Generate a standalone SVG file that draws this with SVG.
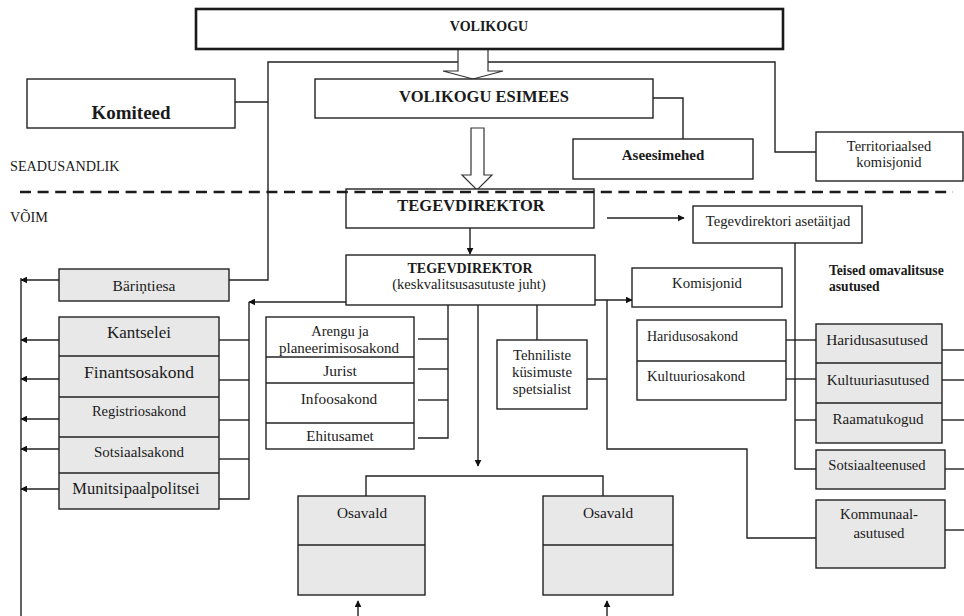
<svg xmlns="http://www.w3.org/2000/svg" width="964" height="616" viewBox="0 0 964 616" font-family="'Liberation Serif', 'DejaVu Serif', serif">
  <style>
    text { font-family: 'Liberation Serif', 'DejaVu Serif', serif; fill: #1a1a1a; text-anchor: middle; }
    .b { font-weight: bold; }
    .l { text-anchor: start; }
    .box { fill: #ffffff; stroke: #222; stroke-width: 1.4; }
    .grey { fill: #e8e8e8; stroke: #222; stroke-width: 1.4; }
    .div { stroke: #222; stroke-width: 1.4; fill: none; }
    .wire { stroke: #222; stroke-width: 1.4; fill: none; }
    .arr { stroke: #222; stroke-width: 1.4; fill: none; marker-end: url(#head); }
    .block { fill: #ffffff; stroke: #333; stroke-width: 1.2; }
  </style>
  <defs>
    <marker id="head" viewBox="0 0 10 10" refX="9" refY="5" markerWidth="7" markerHeight="7" markerUnits="userSpaceOnUse" orient="auto">
      <path d="M0,0 L10,5 L0,10 z" fill="#111"/>
    </marker>
  </defs>

  <rect width="964" height="616" fill="#ffffff"/>

  <!-- side labels -->
  <text class="l" x="10" y="171" font-size="14.2">SEADUSANDLIK</text>
  <text class="l" x="10" y="222" font-size="14.2">VÕIM</text>

  <!-- connectors -->
  <g id="connectors">
    <!-- council outward lines -->
    <polyline class="wire" points="458,62 268,62 268,280 229,280"/>
    <line class="wire" x1="235" y1="102" x2="268" y2="102"/>
    <polyline class="wire" points="488,62 775,62 775,152 816,152"/>
    <polyline class="wire" points="653,98 683,98 683,139"/>

    <!-- hollow block arrows -->
    <polygon class="block" points="458,49 488,49 488,71 503,71 473,79 443,71 458,71"/>
    <polygon class="block" points="471,128 484,128 484,175 492,175 477,190 462,175 471,175"/>

    <!-- director -->
    <line class="arr" x1="470" y1="228" x2="470" y2="254"/>
    <line class="arr" x1="607" y1="218" x2="684" y2="218"/>

    <!-- deputies to other institutions -->
    <polyline class="wire" points="795,243 795,469 816,469"/>
    <line class="wire" x1="786" y1="340" x2="816" y2="340"/>
    <line class="wire" x1="786" y1="379" x2="816" y2="379"/>
    <line class="wire" x1="795" y1="420" x2="816" y2="420"/>
    <line class="wire" x1="942" y1="350" x2="964" y2="350"/>
    <line class="wire" x1="942" y1="380" x2="964" y2="380"/>
    <line class="wire" x1="942" y1="420" x2="964" y2="420"/>
    <line class="wire" x1="945" y1="469" x2="964" y2="469"/>
    <line class="wire" x1="945" y1="530" x2="964" y2="530"/>

    <!-- right side of head of central administration -->
    <line class="arr" x1="595" y1="300" x2="632" y2="300"/>
    <polyline class="wire" points="607,300 607,449 747,449 747,538 816,538"/>
    <line class="wire" x1="587" y1="379" x2="607" y2="379"/>
    <line class="wire" x1="537" y1="305" x2="537" y2="340"/>

    <!-- left side -->
    <line class="arr" x1="346" y1="302" x2="249" y2="302"/>
    <polyline class="wire" points="249,302 249,499 219,499"/>
    <line class="wire" x1="219" y1="340" x2="249" y2="340"/>
    <line class="wire" x1="219" y1="380" x2="249" y2="380"/>
    <line class="wire" x1="219" y1="420" x2="249" y2="420"/>
    <line class="wire" x1="219" y1="459" x2="249" y2="459"/>

    <!-- middle stack -->
    <polyline class="wire" points="448,305 448,438 418,438"/>
    <line class="wire" x1="418" y1="339" x2="448" y2="339"/>
    <line class="wire" x1="418" y1="369" x2="448" y2="369"/>
    <line class="wire" x1="418" y1="400" x2="448" y2="400"/>

    <!-- rural municipalities -->
    <line class="arr" x1="478" y1="305" x2="478" y2="466"/>
    <polyline class="wire" points="366,496 366,476 603,476 603,496"/>
    <line class="arr" x1="358" y1="616" x2="358" y2="601"/>
    <line class="arr" x1="607" y1="616" x2="607" y2="601"/>

    <!-- far left bus -->
    <line class="wire" x1="21" y1="278" x2="21" y2="616"/>
    <line class="arr" x1="59" y1="280" x2="21" y2="280"/>
    <line class="arr" x1="59" y1="340" x2="21" y2="340"/>
    <line class="arr" x1="59" y1="379" x2="21" y2="379"/>
    <line class="arr" x1="59" y1="419" x2="21" y2="419"/>
    <line class="arr" x1="59" y1="449" x2="21" y2="449"/>
    <line class="arr" x1="59" y1="489" x2="21" y2="489"/>
  </g>

  <g id="volikogu">
    <rect x="196" y="9" width="587" height="40" fill="#fff" stroke="#1a1a1a" stroke-width="2.6"/>
    <text class="b" x="489" y="31" font-size="14">VOLIKOGU</text>
  </g>

  <g id="komiteed">
    <rect class="box" x="27" y="79" width="208" height="49"/>
    <text class="b" x="131" y="119" font-size="19">Komiteed</text>
  </g>

  <g id="esimees">
    <rect class="box" x="315" y="79" width="338" height="39"/>
    <text class="b" x="484" y="102" font-size="16.5">VOLIKOGU ESIMEES</text>
  </g>

  <g id="aseesimehed">
    <rect class="box" x="573" y="139" width="180" height="40"/>
    <text class="b" x="663" y="160" font-size="15">Aseesimehed</text>
  </g>

  <g id="territoriaalsed">
    <rect class="box" x="816" y="132" width="147" height="49"/>
    <text x="889" y="151" font-size="14.5">Territoriaalsed</text>
    <text x="889" y="167" font-size="14.5">komisjonid</text>
  </g>

  <g id="tegevdirektor">
    <rect class="box" x="346" y="189" width="248" height="39"/>
    <text class="b" x="471" y="211" font-size="16.5">TEGEVDIREKTOR</text>
  </g>

  <g id="asetaitjad">
    <rect class="box" x="693" y="206" width="169" height="37"/>
    <text x="778" y="226" font-size="14.6">Tegevdirektori asetäitjad</text>
  </g>

  <g id="keskvalitsus">
    <rect class="box" x="346" y="255" width="249" height="50"/>
    <text class="b" x="470" y="273" font-size="14">TEGEVDIREKTOR</text>
    <text x="469" y="289" font-size="14.5">(keskvalitsusasutuste juht)</text>
  </g>

  <g id="komisjonid">
    <rect class="box" x="632" y="268" width="150" height="39"/>
    <text x="707" y="288" font-size="14.8">Komisjonid</text>
  </g>

  <g id="teised">
    <text class="b l" x="829" y="275" font-size="13.6">Teised omavalitsuse</text>
    <text class="b l" x="829" y="291" font-size="13.6">asutused</text>
  </g>

  <g id="osakonnad-haridus">
    <rect class="box" x="637" y="320" width="149" height="80"/>
    <line class="div" x1="637" y1="361" x2="786" y2="361"/>
    <text class="l" x="647" y="341" font-size="14">Haridusosakond</text>
    <text class="l" x="647" y="381" font-size="14.6">Kultuuriosakond</text>
  </g>

  <g id="tehniliste">
    <rect class="box" x="497" y="340" width="90" height="69"/>
    <text x="542" y="360" font-size="14.8">Tehniliste</text>
    <text x="542" y="377" font-size="14.8">küsimuste</text>
    <text x="542" y="394" font-size="14.8">spetsialist</text>
  </g>

  <g id="arengu-stack">
    <rect class="box" x="266" y="317" width="148" height="132"/>
    <text x="340" y="336" font-size="14.5">Arengu ja</text>
    <text x="339" y="353" font-size="15">planeerimisosakond</text>
    <rect x="267" y="357" width="146" height="5" fill="#fff"/>
    <line class="div" x1="266" y1="357" x2="414" y2="357"/>
    <line class="div" x1="266" y1="383" x2="414" y2="383"/>
    <line class="div" x1="266" y1="423" x2="414" y2="423"/>
    <text x="340" y="376" font-size="15.5">Jurist</text>
    <text x="339" y="404" font-size="15.3">Infoosakond</text>
    <text x="340" y="441" font-size="15">Ehitusamet</text>
  </g>

  <g id="bariņtiesa">
    <rect class="grey" x="59" y="269" width="170" height="32"/>
    <text x="144" y="291" font-size="15.5">Bäriņtiesa</text>
  </g>

  <g id="left-stack">
    <rect class="grey" x="59" y="317" width="160" height="192"/>
    <line class="div" x1="59" y1="356" x2="219" y2="356"/>
    <line class="div" x1="59" y1="397" x2="219" y2="397"/>
    <line class="div" x1="59" y1="437" x2="219" y2="437"/>
    <line class="div" x1="59" y1="473" x2="219" y2="473"/>
    <text x="139" y="338" font-size="17">Kantselei</text>
    <text x="139" y="378" font-size="17.5">Finantsosakond</text>
    <text x="139" y="416" font-size="14.5">Registriosakond</text>
    <text x="139" y="457" font-size="15">Sotsiaalsakond</text>
    <text x="136" y="494" font-size="16.5">Munitsipaalpolitsei</text>
  </g>

  <g id="right-stack">
    <rect class="grey" x="816" y="324" width="126" height="119"/>
    <line class="div" x1="816" y1="363" x2="942" y2="363"/>
    <line class="div" x1="816" y1="403" x2="942" y2="403"/>
    <text x="877" y="345" font-size="15.4">Haridusasutused</text>
    <text x="878" y="385" font-size="15">Kultuuriasutused</text>
    <text x="878" y="424" font-size="15">Raamatukogud</text>
  </g>

  <g id="sotsiaalteenused">
    <rect class="grey" x="816" y="450" width="129" height="39"/>
    <text x="877" y="470" font-size="14.6">Sotsiaalteenused</text>
  </g>

  <g id="kommunaal">
    <rect class="grey" x="816" y="500" width="129" height="68"/>
    <text x="879" y="519" font-size="14.8">Kommunaal-</text>
    <text x="879" y="538" font-size="14.8">asutused</text>
  </g>

  <g id="osavald-1">
    <rect class="grey" x="298" y="496" width="127" height="99"/>
    <line class="div" x1="298" y1="545" x2="425" y2="545"/>
    <text x="362" y="518" font-size="15.3">Osavald</text>
  </g>

  <g id="osavald-2">
    <rect class="grey" x="543" y="496" width="130" height="99"/>
    <line class="div" x1="543" y1="545" x2="673" y2="545"/>
    <text x="608" y="518" font-size="15.3">Osavald</text>
  </g>

  <!-- boundary between legislative and executive power -->
  <line x1="20" y1="192" x2="953" y2="192" stroke="#1a1a1a" stroke-width="2.6" stroke-dasharray="11 6.6"/>
</svg>
